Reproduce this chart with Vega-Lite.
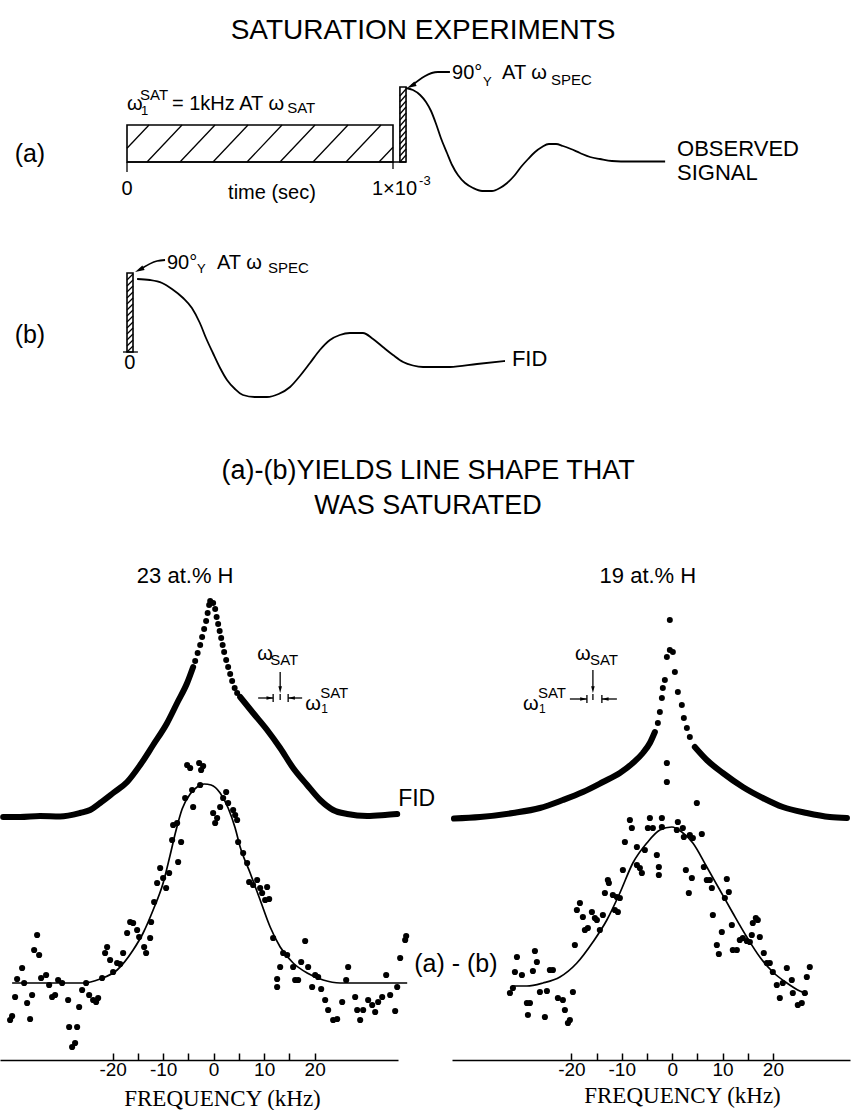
{
  "$schema": "https://vega.github.io/schema/vega-lite/v6.json",
  "padding": 0,
  "background": "white",
  "bounds": "flush",
  "spacing": 30,
  "config": {
    "view": {"stroke": null},
    "font": "Liberation Sans",
    "text": {"font": "Liberation Sans", "color": "black"}
  },
  "datasets": {
    "topRects": [
      {"t": 0, "t2": 1, "v": 7.36, "v2": 8.1},
      {"t": 1.026, "t2": 1.049, "v": 7.36, "v2": 8.86},
      {"t": 0, "t2": 0.0226, "v": 3.56, "v2": 5.14}
    ],
    "topSegs": [
      {"t": 0, "v": 7.634, "t2": 0.0827, "v2": 8.1},
      {"t": 0.0752, "v": 7.36, "t2": 0.2068, "v2": 8.1},
      {"t": 0.1992, "v": 7.36, "t2": 0.3308, "v2": 8.1},
      {"t": 0.3233, "v": 7.36, "t2": 0.4549, "v2": 8.1},
      {"t": 0.4511, "v": 7.36, "t2": 0.5827, "v2": 8.1},
      {"t": 0.5752, "v": 7.36, "t2": 0.7068, "v2": 8.1},
      {"t": 0.6992, "v": 7.36, "t2": 0.8308, "v2": 8.1},
      {"t": 0.8233, "v": 7.36, "t2": 0.9549, "v2": 8.1},
      {"t": 0.9474, "v": 7.36, "t2": 1.0, "v2": 7.656},
      {"t": 0, "v": 7.16, "t2": 0, "v2": 7.36},
      {"t": 1, "v": 7.22, "t2": 1, "v2": 7.36},
      {"t": 0, "v": 7.36, "t2": 1.049, "v2": 7.36},
      {"t": 1.026, "v": 8.68, "t2": 1.049, "v2": 8.82},
      {"t": 1.026, "v": 8.56, "t2": 1.049, "v2": 8.70},
      {"t": 1.026, "v": 8.44, "t2": 1.049, "v2": 8.58},
      {"t": 1.026, "v": 8.32, "t2": 1.049, "v2": 8.46},
      {"t": 1.026, "v": 8.20, "t2": 1.049, "v2": 8.34},
      {"t": 1.026, "v": 8.08, "t2": 1.049, "v2": 8.22},
      {"t": 1.026, "v": 7.96, "t2": 1.049, "v2": 8.10},
      {"t": 1.026, "v": 7.84, "t2": 1.049, "v2": 7.98},
      {"t": 1.026, "v": 7.72, "t2": 1.049, "v2": 7.86},
      {"t": 1.026, "v": 7.60, "t2": 1.049, "v2": 7.74},
      {"t": 1.026, "v": 7.48, "t2": 1.049, "v2": 7.62},
      {"t": 1.026, "v": 7.36, "t2": 1.049, "v2": 7.50},
      {"t": 0, "v": 5.0, "t2": 0.0226, "v2": 5.12},
      {"t": 0, "v": 4.88, "t2": 0.0226, "v2": 5.0},
      {"t": 0, "v": 4.76, "t2": 0.0226, "v2": 4.88},
      {"t": 0, "v": 4.64, "t2": 0.0226, "v2": 4.76},
      {"t": 0, "v": 4.52, "t2": 0.0226, "v2": 4.64},
      {"t": 0, "v": 4.40, "t2": 0.0226, "v2": 4.52},
      {"t": 0, "v": 4.28, "t2": 0.0226, "v2": 4.40},
      {"t": 0, "v": 4.16, "t2": 0.0226, "v2": 4.28},
      {"t": 0, "v": 4.04, "t2": 0.0226, "v2": 4.16},
      {"t": 0, "v": 3.92, "t2": 0.0226, "v2": 4.04},
      {"t": 0, "v": 3.80, "t2": 0.0226, "v2": 3.92},
      {"t": 0, "v": 3.68, "t2": 0.0226, "v2": 3.80},
      {"t": 0, "v": 3.56, "t2": 0.0226, "v2": 3.68},
      {"t": -0.015, "v": 3.56, "t2": 0.041, "v2": 3.56}
    ],
    "topCurves": [
      {"id": "obs", "t": 1.049, "v": 8.84}, {"id": "obs", "t": 1.075, "v": 8.8}, {"id": "obs", "t": 1.102, "v": 8.7},
      {"id": "obs", "t": 1.124, "v": 8.56}, {"id": "obs", "t": 1.143, "v": 8.38}, {"id": "obs", "t": 1.162, "v": 8.12},
      {"id": "obs", "t": 1.180, "v": 7.84}, {"id": "obs", "t": 1.203, "v": 7.54}, {"id": "obs", "t": 1.222, "v": 7.3},
      {"id": "obs", "t": 1.244, "v": 7.1}, {"id": "obs", "t": 1.271, "v": 6.94}, {"id": "obs", "t": 1.301, "v": 6.84},
      {"id": "obs", "t": 1.335, "v": 6.78}, {"id": "obs", "t": 1.372, "v": 6.78}, {"id": "obs", "t": 1.402, "v": 6.84},
      {"id": "obs", "t": 1.429, "v": 6.94}, {"id": "obs", "t": 1.455, "v": 7.08}, {"id": "obs", "t": 1.481, "v": 7.26},
      {"id": "obs", "t": 1.508, "v": 7.42}, {"id": "obs", "t": 1.534, "v": 7.56}, {"id": "obs", "t": 1.560, "v": 7.66},
      {"id": "obs", "t": 1.586, "v": 7.72}, {"id": "obs", "t": 1.613, "v": 7.72}, {"id": "obs", "t": 1.639, "v": 7.68},
      {"id": "obs", "t": 1.669, "v": 7.62}, {"id": "obs", "t": 1.703, "v": 7.54}, {"id": "obs", "t": 1.741, "v": 7.46},
      {"id": "obs", "t": 1.778, "v": 7.42}, {"id": "obs", "t": 1.823, "v": 7.38}, {"id": "obs", "t": 1.891, "v": 7.37},
      {"id": "obs", "t": 2.023, "v": 7.37},
      {"id": "fid", "t": 0.038, "v": 5.02}, {"id": "fid", "t": 0.086, "v": 5.0}, {"id": "fid", "t": 0.132, "v": 4.94},
      {"id": "fid", "t": 0.169, "v": 4.82}, {"id": "fid", "t": 0.211, "v": 4.64}, {"id": "fid", "t": 0.244, "v": 4.44},
      {"id": "fid", "t": 0.274, "v": 4.14}, {"id": "fid", "t": 0.297, "v": 3.84}, {"id": "fid", "t": 0.323, "v": 3.54},
      {"id": "fid", "t": 0.350, "v": 3.24}, {"id": "fid", "t": 0.376, "v": 3.0}, {"id": "fid", "t": 0.406, "v": 2.82},
      {"id": "fid", "t": 0.436, "v": 2.7}, {"id": "fid", "t": 0.48, "v": 2.66}, {"id": "fid", "t": 0.526, "v": 2.66},
      {"id": "fid", "t": 0.57, "v": 2.72}, {"id": "fid", "t": 0.613, "v": 2.86}, {"id": "fid", "t": 0.650, "v": 3.08},
      {"id": "fid", "t": 0.688, "v": 3.34}, {"id": "fid", "t": 0.725, "v": 3.6}, {"id": "fid", "t": 0.763, "v": 3.8},
      {"id": "fid", "t": 0.80, "v": 3.9}, {"id": "fid", "t": 0.838, "v": 3.94}, {"id": "fid", "t": 0.887, "v": 3.94},
      {"id": "fid", "t": 0.925, "v": 3.82}, {"id": "fid", "t": 0.962, "v": 3.66}, {"id": "fid", "t": 1.0, "v": 3.5},
      {"id": "fid", "t": 1.038, "v": 3.36}, {"id": "fid", "t": 1.075, "v": 3.29}, {"id": "fid", "t": 1.113, "v": 3.26},
      {"id": "fid", "t": 1.214, "v": 3.26}, {"id": "fid", "t": 1.316, "v": 3.32}, {"id": "fid", "t": 1.421, "v": 3.38},
      {"id": "leadA", "t": 1.214, "v": 9.16}, {"id": "leadA", "t": 1.169, "v": 9.16}, {"id": "leadA", "t": 1.0695, "v": 8.884},
      {"id": "leadB", "t": 0.143, "v": 5.4}, {"id": "leadB", "t": 0.113, "v": 5.38}, {"id": "leadB", "t": 0.047, "v": 5.204}
    ],
    "topHeads": [
      {"t": 1.0695, "v": 8.884, "ang": 243},
      {"t": 0.047, "v": 5.204, "ang": 243}
    ],
    "topText": [
      {"t": 1.113, "v": 9.82, "txt": "SATURATION EXPERIMENTS", "kind": "title"},
      {"t": 1.132, "v": 1.02, "txt": "(a)-(b)YIELDS LINE SHAPE THAT", "kind": "head"},
      {"t": 1.132, "v": 0.32, "txt": "WAS SATURATED", "kind": "head"},
      {"t": -0.365, "v": 7.36, "txt": "(a)", "kind": "par"},
      {"t": -0.365, "v": 3.74, "txt": "(b)", "kind": "par"},
      {"t": 2.068, "v": 7.48, "txt": "OBSERVED", "kind": "label"},
      {"t": 2.068, "v": 7.0, "txt": "SIGNAL", "kind": "label"},
      {"t": 1.447, "v": 3.28, "txt": "FID", "kind": "label"},
      {"t": 0, "v": 8.4, "txt": "ω", "kind": "main"},
      {"t": 0.169, "v": 8.4, "txt": "= 1kHz AT ω", "kind": "main"},
      {"t": 1.222, "v": 9.02, "txt": "90°", "kind": "main"},
      {"t": 1.410, "v": 9.02, "txt": "AT ω", "kind": "main"},
      {"t": 0.150, "v": 5.22, "txt": "90°", "kind": "main"},
      {"t": 0.338, "v": 5.22, "txt": "AT ω", "kind": "main"},
      {"t": 0.921, "v": 6.7, "txt": "1×10", "kind": "main"},
      {"t": 0, "v": 6.7, "txt": "0", "kind": "mainc"},
      {"t": 0.545, "v": 6.62, "txt": "time (sec)", "kind": "mainc"},
      {"t": 0.011, "v": 3.22, "txt": "0", "kind": "mainc"},
      {"t": 0.049, "v": 8.6, "txt": "SAT", "kind": "sup"},
      {"t": 0.602, "v": 8.34, "txt": "SAT", "kind": "sup"},
      {"t": 1.594, "v": 8.9, "txt": "SPEC", "kind": "sup"},
      {"t": 0.530, "v": 5.14, "txt": "SPEC", "kind": "sup"},
      {"t": 0.053, "v": 8.3, "txt": "1", "kind": "tiny"},
      {"t": 1.338, "v": 8.88, "txt": "Y", "kind": "tiny"},
      {"t": 0.263, "v": 5.14, "txt": "Y", "kind": "tiny"},
      {"t": 1.098, "v": 6.9, "txt": "-3", "kind": "tiny"}
    ],
    "leftFit": [
      {"f": -39.90, "a": 0.77}, {"f": -32.38, "a": 0.77}, {"f": -25.84, "a": 0.77}, {"f": -22.48, "a": 0.81},
      {"f": -19.11, "a": 0.90}, {"f": -15.94, "a": 1.10}, {"f": -13.96, "a": 1.27}, {"f": -11.98, "a": 1.50},
      {"f": -10.00, "a": 1.77}, {"f": -8.61, "a": 2.05}, {"f": -7.43, "a": 2.30}, {"f": -6.24, "a": 2.51},
      {"f": -4.65, "a": 2.66}, {"f": -3.27, "a": 2.73}, {"f": -1.88, "a": 2.76}, {"f": -0.50, "a": 2.75},
      {"f": 1.29, "a": 2.67}, {"f": 2.87, "a": 2.52}, {"f": 4.26, "a": 2.32}, {"f": 5.25, "a": 2.13},
      {"f": 7.23, "a": 1.87}, {"f": 9.21, "a": 1.60}, {"f": 11.19, "a": 1.33}, {"f": 13.17, "a": 1.13},
      {"f": 15.74, "a": 0.97}, {"f": 18.51, "a": 0.87}, {"f": 21.68, "a": 0.80}, {"f": 25.05, "a": 0.77},
      {"f": 38.32, "a": 0.77}
    ],
    "leftFidLine": [
      {"seg": "L", "f": -41.68, "a": 2.43}, {"seg": "L", "f": -38.32, "a": 2.43}, {"seg": "L", "f": -34.36, "a": 2.44},
      {"seg": "L", "f": -30.40, "a": 2.435}, {"seg": "L", "f": -26.44, "a": 2.47}, {"seg": "L", "f": -24.46, "a": 2.50},
      {"seg": "L", "f": -22.48, "a": 2.57}, {"seg": "L", "f": -19.90, "a": 2.67}, {"seg": "L", "f": -17.13, "a": 2.78},
      {"seg": "L", "f": -14.55, "a": 2.95}, {"seg": "L", "f": -11.98, "a": 3.15}, {"seg": "L", "f": -9.21, "a": 3.37},
      {"seg": "L", "f": -7.23, "a": 3.57}, {"seg": "L", "f": -5.25, "a": 3.77}, {"seg": "L", "f": -4.06, "a": 3.93},
      {"seg": "R", "f": 5.25, "a": 3.63}, {"seg": "R", "f": 7.82, "a": 3.47}, {"seg": "R", "f": 10.59, "a": 3.30},
      {"seg": "R", "f": 13.17, "a": 3.12}, {"seg": "R", "f": 15.74, "a": 2.92}, {"seg": "R", "f": 18.51, "a": 2.75},
      {"seg": "R", "f": 21.09, "a": 2.60}, {"seg": "R", "f": 23.66, "a": 2.50}, {"seg": "R", "f": 26.44, "a": 2.46},
      {"seg": "R", "f": 30.40, "a": 2.44}, {"seg": "R", "f": 33.96, "a": 2.45}, {"seg": "R", "f": 36.34, "a": 2.46}
    ],
    "leftFidDots": [
      {"f": -3.66, "a": 3.99}, {"f": -3.17, "a": 4.07}, {"f": -2.67, "a": 4.15}, {"f": -2.28, "a": 4.23},
      {"f": -1.88, "a": 4.31}, {"f": -1.49, "a": 4.39}, {"f": -1.19, "a": 4.47}, {"f": -0.89, "a": 4.55},
      {"f": -0.69, "a": 4.59}, {"f": -0.10, "a": 4.57}, {"f": 0.30, "a": 4.51}, {"f": 0.59, "a": 4.43},
      {"f": 0.89, "a": 4.36}, {"f": 1.19, "a": 4.29}, {"f": 1.49, "a": 4.22}, {"f": 1.78, "a": 4.15},
      {"f": 2.08, "a": 4.08}, {"f": 2.48, "a": 4.00}, {"f": 2.87, "a": 3.93}, {"f": 3.27, "a": 3.86},
      {"f": 3.66, "a": 3.79}, {"f": 4.16, "a": 3.72}, {"f": 4.65, "a": 3.67}
    ],
    "leftDiff": [
      {"f": -40.30, "a": 0.40}, {"f": -39.90, "a": 0.44}, {"f": -39.31, "a": 0.63}, {"f": -38.91, "a": 0.81},
      {"f": -37.92, "a": 0.92}, {"f": -37.52, "a": 0.77}, {"f": -36.93, "a": 0.57}, {"f": -36.34, "a": 0.41},
      {"f": -35.94, "a": 0.65}, {"f": -35.54, "a": 1.10}, {"f": -34.95, "a": 1.25}, {"f": -34.55, "a": 1.05},
      {"f": -34.16, "a": 0.82}, {"f": -33.17, "a": 0.85}, {"f": -32.57, "a": 0.75}, {"f": -31.98, "a": 0.63},
      {"f": -31.39, "a": 0.65}, {"f": -30.79, "a": 0.80}, {"f": -30.00, "a": 0.77}, {"f": -28.81, "a": 0.60},
      {"f": -28.61, "a": 0.33}, {"f": -27.03, "a": 0.33}, {"f": -28.02, "a": 0.13}, {"f": -27.43, "a": 0.17},
      {"f": -26.63, "a": 0.53}, {"f": -26.04, "a": 0.70}, {"f": -25.25, "a": 0.77}, {"f": -24.65, "a": 0.65},
      {"f": -23.86, "a": 0.60}, {"f": -22.87, "a": 0.62}, {"f": -23.27, "a": 0.58}, {"f": -22.08, "a": 0.82},
      {"f": -21.49, "a": 1.07}, {"f": -21.09, "a": 1.13}, {"f": -20.50, "a": 1.00}, {"f": -19.90, "a": 0.88},
      {"f": -19.11, "a": 0.97}, {"f": -18.51, "a": 0.96}, {"f": -17.92, "a": 1.07}, {"f": -17.13, "a": 1.27},
      {"f": -16.53, "a": 1.38}, {"f": -15.94, "a": 1.37}, {"f": -15.15, "a": 1.30}, {"f": -14.75, "a": 1.23},
      {"f": -13.76, "a": 1.13}, {"f": -13.37, "a": 1.07}, {"f": -12.57, "a": 1.22}, {"f": -12.38, "a": 1.38},
      {"f": -11.78, "a": 1.58}, {"f": -11.19, "a": 1.77}, {"f": -10.59, "a": 1.92}, {"f": -10.00, "a": 1.82},
      {"f": -9.41, "a": 1.72}, {"f": -8.81, "a": 1.87}, {"f": -8.22, "a": 2.20}, {"f": -7.23, "a": 2.37},
      {"f": -7.03, "a": 1.98}, {"f": -6.44, "a": 2.18}, {"f": -8.02, "a": 2.35}, {"f": -5.25, "a": 2.95},
      {"f": -4.65, "a": 2.92}, {"f": -2.87, "a": 2.97}, {"f": -2.48, "a": 2.90}, {"f": -2.08, "a": 2.94},
      {"f": -4.26, "a": 2.70}, {"f": -5.64, "a": 2.62}, {"f": -4.06, "a": 2.53}, {"f": -2.67, "a": 2.75},
      {"f": -0.10, "a": 2.47}, {"f": 0.69, "a": 2.42}, {"f": 1.29, "a": 2.53}, {"f": 1.88, "a": 2.62},
      {"f": 2.48, "a": 2.68}, {"f": 2.87, "a": 2.57}, {"f": 3.86, "a": 2.50}, {"f": 4.26, "a": 2.45},
      {"f": 0.30, "a": 2.37}, {"f": 4.65, "a": 2.40}, {"f": 4.85, "a": 2.18}, {"f": 5.84, "a": 2.07},
      {"f": 6.63, "a": 1.97}, {"f": 7.03, "a": 1.78}, {"f": 7.82, "a": 1.75}, {"f": 8.61, "a": 1.80},
      {"f": 9.21, "a": 1.72}, {"f": 9.60, "a": 1.67}, {"f": 10.20, "a": 1.60}, {"f": 10.59, "a": 1.73},
      {"f": 10.99, "a": 1.61}, {"f": 11.78, "a": 1.22}, {"f": 12.57, "a": 0.81}, {"f": 12.57, "a": 0.73},
      {"f": 13.17, "a": 0.93}, {"f": 13.76, "a": 1.07}, {"f": 14.55, "a": 1.05}, {"f": 15.74, "a": 0.93},
      {"f": 16.14, "a": 0.80}, {"f": 16.73, "a": 0.80}, {"f": 17.33, "a": 0.98}, {"f": 18.12, "a": 1.19},
      {"f": 18.71, "a": 0.93}, {"f": 19.50, "a": 0.73}, {"f": 20.10, "a": 0.85}, {"f": 20.69, "a": 0.83},
      {"f": 21.29, "a": 0.71}, {"f": 22.08, "a": 0.60}, {"f": 22.67, "a": 0.50}, {"f": 23.66, "a": 0.40},
      {"f": 24.46, "a": 0.41}, {"f": 25.45, "a": 0.58}, {"f": 26.24, "a": 0.80}, {"f": 26.63, "a": 0.93},
      {"f": 28.02, "a": 0.63}, {"f": 28.42, "a": 0.50}, {"f": 29.01, "a": 0.40}, {"f": 29.60, "a": 0.50},
      {"f": 30.59, "a": 0.60}, {"f": 31.39, "a": 0.55}, {"f": 31.98, "a": 0.48}, {"f": 32.57, "a": 0.58},
      {"f": 33.37, "a": 0.63}, {"f": 34.16, "a": 0.85}, {"f": 34.95, "a": 0.65}, {"f": 35.94, "a": 0.49},
      {"f": 36.34, "a": 0.73}, {"f": 36.93, "a": 1.02}, {"f": 38.12, "a": 1.24}, {"f": 37.92, "a": 1.20}
    ],
    "leftRules": [
      {"f": 13.17, "a": 3.88, "f2": 13.17, "a2": 3.73},
      {"f": 13.17, "a": 3.66, "f2": 13.17, "a2": 3.60},
      {"f": 8.81, "a": 3.62, "f2": 11.78, "a2": 3.62},
      {"f": 11.78, "a": 3.66, "f2": 11.78, "a2": 3.58},
      {"f": 14.75, "a": 3.66, "f2": 14.75, "a2": 3.58},
      {"f": 14.75, "a": 3.62, "f2": 17.52, "a2": 3.62}
    ],
    "leftHeads": [
      {"f": 13.17, "a": 3.705, "ang": 180},
      {"f": 11.09, "a": 3.62, "ang": 90},
      {"f": 15.45, "a": 3.62, "ang": 270}
    ],
    "leftText": [
      {"f": -5.64, "a": 4.77, "txt": "23 at.% H", "kind": "head"},
      {"f": 8.61, "a": 4.0, "txt": "ω", "kind": "main"},
      {"f": 11.19, "a": 3.95, "txt": "SAT", "kind": "sup"},
      {"f": 18.12, "a": 3.5, "txt": "ω", "kind": "main"},
      {"f": 21.09, "a": 3.62, "txt": "SAT", "kind": "sup"},
      {"f": 21.29, "a": 3.47, "txt": "1", "kind": "tiny"},
      {"f": 36.53, "a": 2.54, "txt": "FID", "kind": "label"}
    ],
    "rightFit": [
      {"f": -31.81, "a": 0.74}, {"f": -28.83, "a": 0.74}, {"f": -25.65, "a": 0.77}, {"f": -22.28, "a": 0.83},
      {"f": -18.91, "a": 0.97}, {"f": -15.73, "a": 1.18}, {"f": -12.96, "a": 1.40}, {"f": -10.38, "a": 1.67},
      {"f": -7.80, "a": 1.97}, {"f": -5.02, "a": 2.17}, {"f": -2.44, "a": 2.30}, {"f": -0.06, "a": 2.33},
      {"f": 1.92, "a": 2.28}, {"f": 4.11, "a": 2.17}, {"f": 6.88, "a": 1.93}, {"f": 9.46, "a": 1.70},
      {"f": 12.04, "a": 1.47}, {"f": 14.82, "a": 1.23}, {"f": 17.40, "a": 1.03}, {"f": 19.98, "a": 0.88},
      {"f": 22.76, "a": 0.77}, {"f": 25.34, "a": 0.69}, {"f": 26.92, "a": 0.66}
    ],
    "rightFidLine": [
      {"seg": "L", "f": -43.31, "a": 2.415}, {"seg": "L", "f": -38.15, "a": 2.43}, {"seg": "L", "f": -31.61, "a": 2.47},
      {"seg": "L", "f": -26.25, "a": 2.52}, {"seg": "L", "f": -21.69, "a": 2.60}, {"seg": "L", "f": -17.72, "a": 2.68},
      {"seg": "L", "f": -13.75, "a": 2.78}, {"seg": "L", "f": -10.38, "a": 2.87}, {"seg": "L", "f": -7.80, "a": 2.97},
      {"seg": "L", "f": -5.81, "a": 3.07}, {"seg": "L", "f": -4.42, "a": 3.17}, {"seg": "L", "f": -3.43, "a": 3.28},
      {"seg": "R", "f": 4.50, "a": 3.13}, {"seg": "R", "f": 6.88, "a": 3.00}, {"seg": "R", "f": 10.06, "a": 2.87},
      {"seg": "R", "f": 14.03, "a": 2.73}, {"seg": "R", "f": 18.00, "a": 2.62}, {"seg": "R", "f": 21.96, "a": 2.53},
      {"seg": "R", "f": 26.73, "a": 2.47}, {"seg": "R", "f": 31.29, "a": 2.43}, {"seg": "R", "f": 34.7, "a": 2.42}
    ],
    "rightFidDots": [
      {"f": -2.84, "a": 3.37}, {"f": -2.44, "a": 3.48}, {"f": -2.04, "a": 3.62}, {"f": -1.85, "a": 3.72},
      {"f": -1.45, "a": 3.80}, {"f": -1.05, "a": 4.03}, {"f": -0.46, "a": 4.10}, {"f": -0.46, "a": 4.40},
      {"f": 0.14, "a": 4.08}, {"f": 0.54, "a": 3.88}, {"f": 1.13, "a": 3.68}, {"f": 1.92, "a": 3.55},
      {"f": 2.32, "a": 3.42}, {"f": 2.92, "a": 3.32}, {"f": 3.51, "a": 3.23}
    ],
    "rightDiff": [
      {"f": -32.20, "a": 0.67}, {"f": -31.61, "a": 0.72}, {"f": -30.81, "a": 1.03}, {"f": -31.21, "a": 0.88},
      {"f": -29.82, "a": 0.85}, {"f": -28.83, "a": 0.57}, {"f": -28.23, "a": 0.57}, {"f": -28.63, "a": 0.45},
      {"f": -27.64, "a": 0.89}, {"f": -27.24, "a": 1.09}, {"f": -26.85, "a": 0.98}, {"f": -26.25, "a": 0.68},
      {"f": -25.26, "a": 0.43}, {"f": -24.86, "a": 0.69}, {"f": -24.27, "a": 0.90}, {"f": -23.67, "a": 0.90},
      {"f": -22.68, "a": 0.62}, {"f": -21.69, "a": 0.60}, {"f": -21.29, "a": 0.50}, {"f": -20.30, "a": 0.40},
      {"f": -20.69, "a": 0.37}, {"f": -19.70, "a": 0.68}, {"f": -19.31, "a": 1.15}, {"f": -18.91, "a": 1.50},
      {"f": -18.31, "a": 1.57}, {"f": -17.72, "a": 1.43}, {"f": -17.32, "a": 1.30}, {"f": -16.73, "a": 1.32},
      {"f": -15.93, "a": 1.48}, {"f": -15.34, "a": 1.42}, {"f": -14.94, "a": 1.40}, {"f": -14.35, "a": 1.30},
      {"f": -13.75, "a": 1.45}, {"f": -13.35, "a": 1.67}, {"f": -12.76, "a": 1.80}, {"f": -12.56, "a": 1.77},
      {"f": -11.77, "a": 1.65}, {"f": -11.37, "a": 1.50}, {"f": -10.77, "a": 1.48}, {"f": -10.97, "a": 1.63},
      {"f": -10.38, "a": 1.62}, {"f": -9.78, "a": 1.90}, {"f": -9.38, "a": 2.18}, {"f": -8.39, "a": 2.40},
      {"f": -7.00, "a": 2.13}, {"f": -7.00, "a": 1.95}, {"f": -6.41, "a": 1.92}, {"f": -6.01, "a": 1.87},
      {"f": -5.42, "a": 2.10}, {"f": -4.82, "a": 2.32}, {"f": -3.83, "a": 2.32}, {"f": -3.04, "a": 2.05},
      {"f": -2.64, "a": 1.93}, {"f": -2.64, "a": 1.85}, {"f": -2.04, "a": 2.33}, {"f": 0.93, "a": 2.30},
      {"f": 1.13, "a": 2.38}, {"f": 2.32, "a": 2.23}, {"f": 2.72, "a": 1.90}, {"f": 3.31, "a": 1.67},
      {"f": 3.91, "a": 1.82}, {"f": 4.11, "a": 2.22}, {"f": 5.89, "a": 2.26}, {"f": 6.29, "a": 1.93},
      {"f": 6.88, "a": 1.80}, {"f": 7.48, "a": 1.80}, {"f": 7.88, "a": 1.72}, {"f": 8.08, "a": 1.45},
      {"f": 8.87, "a": 1.15}, {"f": 9.27, "a": 1.06}, {"f": 9.86, "a": 1.28}, {"f": 10.46, "a": 1.62},
      {"f": 10.85, "a": 1.81}, {"f": 11.25, "a": 1.68}, {"f": 11.85, "a": 1.35}, {"f": 12.04, "a": 1.10},
      {"f": 12.84, "a": 1.10}, {"f": 13.43, "a": 1.20}, {"f": 14.03, "a": 1.22}, {"f": 14.82, "a": 1.19},
      {"f": 15.42, "a": 1.18}, {"f": 15.81, "a": 1.25}, {"f": 16.01, "a": 1.37}, {"f": 16.61, "a": 1.42},
      {"f": 17.00, "a": 1.40}, {"f": 17.40, "a": 1.23}, {"f": 18.19, "a": 1.07}, {"f": 18.79, "a": 0.97},
      {"f": 19.38, "a": 0.97}, {"f": 19.98, "a": 0.88}, {"f": 20.77, "a": 0.75}, {"f": 21.37, "a": 0.62},
      {"f": 21.96, "a": 0.77}, {"f": 22.76, "a": 0.92}, {"f": 23.75, "a": 0.80}, {"f": 23.95, "a": 0.67},
      {"f": 24.94, "a": 0.55}, {"f": 25.73, "a": 0.57}, {"f": 26.33, "a": 0.67}, {"f": 26.73, "a": 0.83},
      {"f": 27.32, "a": 0.93}, {"f": -8.00, "a": 2.32}, {"f": -4.42, "a": 2.42}, {"f": -2.04, "a": 2.42},
      {"f": -1.05, "a": 2.97}, {"f": -1.05, "a": 2.78}, {"f": 4.90, "a": 2.57}, {"f": 2.12, "a": 2.32},
      {"f": 3.51, "a": 2.25}
    ],
    "rightRules": [
      {"f": -15.73, "a": 3.90, "f2": -15.73, "a2": 3.73},
      {"f": -15.73, "a": 3.66, "f2": -15.73, "a2": 3.60},
      {"f": -20.30, "a": 3.61, "f2": -16.92, "a2": 3.61},
      {"f": -16.92, "a": 3.65, "f2": -16.92, "a2": 3.57},
      {"f": -13.95, "a": 3.65, "f2": -13.95, "a2": 3.57},
      {"f": -13.95, "a": 3.61, "f2": -10.97, "a2": 3.61}
    ],
    "rightHeads": [
      {"f": -15.73, "a": 3.705, "ang": 180},
      {"f": -17.62, "a": 3.61, "ang": 90},
      {"f": -13.25, "a": 3.61, "ang": 270}
    ],
    "rightText": [
      {"f": -4.82, "a": 4.77, "txt": "19 at.% H", "kind": "head"},
      {"f": -19.31, "a": 4.0, "txt": "ω", "kind": "main"},
      {"f": -16.33, "a": 3.95, "txt": "SAT", "kind": "sup"},
      {"f": -29.62, "a": 3.5, "txt": "ω", "kind": "main"},
      {"f": -26.65, "a": 3.62, "txt": "SAT", "kind": "sup"},
      {"f": -26.45, "a": 3.47, "txt": "1", "kind": "tiny"},
      {"f": -42.92, "a": 0.88, "txt": "(a) - (b)", "kind": "par"}
    ]
  },
  "vconcat": [
    {
      "width": 856,
      "height": 530,
      "encoding": {
        "x": {"field": "t", "type": "quantitative", "scale": {"domain": [-0.47744, 2.7406], "nice": false, "zero": false}, "axis": null},
        "y": {"field": "v", "type": "quantitative", "scale": {"domain": [0, 10.6], "nice": false, "zero": false}, "axis": null}
      },
      "layer": [
        {"data": {"name": "topRects"}, "mark": {"type": "rect", "fillOpacity": 0, "stroke": "black", "strokeWidth": 1.6},
         "encoding": {"x2": {"field": "t2"}, "y2": {"field": "v2"}}},
        {"data": {"name": "topSegs"}, "mark": {"type": "rule", "color": "black", "strokeWidth": 1.3},
         "encoding": {"x2": {"field": "t2"}, "y2": {"field": "v2"}}},
        {"data": {"name": "topCurves"}, "mark": {"type": "line", "color": "black", "strokeWidth": 1.8, "interpolate": "monotone"},
         "encoding": {"detail": {"field": "id"}}},
        {"data": {"name": "topHeads"}, "mark": {"type": "point", "shape": "M0,-1L0.5,0.9L-0.5,0.9Z", "filled": true, "color": "black", "size": 100, "opacity": 1, "strokeWidth": 0},
         "encoding": {"angle": {"field": "ang", "type": "quantitative", "scale": null}}},
        {"data": {"name": "topText"}, "transform": [{"filter": "datum.kind === 'title'"}],
         "mark": {"type": "text", "fontSize": 28, "align": "center", "baseline": "alphabetic", "color": "black"},
         "encoding": {"text": {"field": "txt"}}},
        {"data": {"name": "topText"}, "transform": [{"filter": "datum.kind === 'head'"}],
         "mark": {"type": "text", "fontSize": 27, "align": "center", "baseline": "alphabetic", "color": "black"},
         "encoding": {"text": {"field": "txt"}}},
        {"data": {"name": "topText"}, "transform": [{"filter": "datum.kind === 'par'"}],
         "mark": {"type": "text", "fontSize": 25, "align": "center", "baseline": "alphabetic", "color": "black"},
         "encoding": {"text": {"field": "txt"}}},
        {"data": {"name": "topText"}, "transform": [{"filter": "datum.kind === 'label'"}],
         "mark": {"type": "text", "fontSize": 22, "align": "left", "baseline": "alphabetic", "color": "black"},
         "encoding": {"text": {"field": "txt"}}},
        {"data": {"name": "topText"}, "transform": [{"filter": "datum.kind === 'main'"}],
         "mark": {"type": "text", "fontSize": 20, "align": "left", "baseline": "alphabetic", "color": "black"},
         "encoding": {"text": {"field": "txt"}}},
        {"data": {"name": "topText"}, "transform": [{"filter": "datum.kind === 'mainc'"}],
         "mark": {"type": "text", "fontSize": 20, "align": "center", "baseline": "alphabetic", "color": "black"},
         "encoding": {"text": {"field": "txt"}}},
        {"data": {"name": "topText"}, "transform": [{"filter": "datum.kind === 'sup'"}],
         "mark": {"type": "text", "fontSize": 15, "align": "left", "baseline": "alphabetic", "color": "black"},
         "encoding": {"text": {"field": "txt"}}},
        {"data": {"name": "topText"}, "transform": [{"filter": "datum.kind === 'tiny'"}],
         "mark": {"type": "text", "fontSize": 13, "align": "left", "baseline": "alphabetic", "color": "black"},
         "encoding": {"text": {"field": "txt"}}}
      ]
    },
    {
      "bounds": "flush",
      "spacing": 54,
      "hconcat": [
        {
          "width": 398,
          "height": 500,
          "encoding": {
            "x": {"field": "f", "type": "quantitative",
                  "scale": {"domain": [-42.3, 36.5], "nice": false, "zero": false},
                  "axis": {"values": [-20, -15, -10, -5, 0, 5, 10, 15, 20],
                           "labelExpr": "datum.value % 10 === 0 ? '' + datum.value : ''",
                           "tickSize": -7, "tickColor": "black", "tickWidth": 1.5,
                           "domainColor": "black", "domainWidth": 1.5, "grid": false,
                           "labelFont": "Liberation Sans", "labelFontSize": 19, "labelColor": "black",
                           "labelPadding": 7, "labelFlush": false, "labelOverlap": false,
                           "title": "FREQUENCY (kHz)", "titleFont": "Liberation Serif", "titleFontSize": 23,
                           "titleFontWeight": "normal", "titleColor": "black",
                           "titleX": 222, "titleY": 45, "titleBaseline": "alphabetic", "titleAlign": "center"}},
            "y": {"field": "a", "type": "quantitative", "scale": {"domain": [0, 5], "nice": false, "zero": false}, "axis": null}
          },
          "layer": [
            {"data": {"name": "leftFit"}, "mark": {"type": "line", "color": "black", "strokeWidth": 1.7, "interpolate": "monotone"}},
            {"data": {"name": "leftFidLine"}, "mark": {"type": "line", "color": "black", "strokeWidth": 6, "strokeCap": "round", "strokeJoin": "round", "interpolate": "monotone"},
             "encoding": {"detail": {"field": "seg"}}},
            {"data": {"name": "leftFidDots"}, "mark": {"type": "circle", "color": "black", "opacity": 1, "size": 36}},
            {"data": {"name": "leftDiff"}, "mark": {"type": "circle", "color": "black", "opacity": 1, "size": 38}},
            {"data": {"name": "leftRules"}, "mark": {"type": "rule", "color": "black", "strokeWidth": 1.3},
             "encoding": {"x2": {"field": "f2"}, "y2": {"field": "a2"}}},
            {"data": {"name": "leftHeads"}, "mark": {"type": "point", "shape": "M0,-1L0.5,0.9L-0.5,0.9Z", "filled": true, "color": "black", "size": 50, "opacity": 1, "strokeWidth": 0},
             "encoding": {"angle": {"field": "ang", "type": "quantitative", "scale": null}}},
            {"data": {"name": "leftText"}, "transform": [{"filter": "datum.kind === 'head'"}],
             "mark": {"type": "text", "fontSize": 22, "align": "center", "baseline": "alphabetic", "color": "black"},
             "encoding": {"text": {"field": "txt"}}},
            {"data": {"name": "leftText"}, "transform": [{"filter": "datum.kind === 'main'"}],
             "mark": {"type": "text", "fontSize": 20, "align": "left", "baseline": "alphabetic", "color": "black"},
             "encoding": {"text": {"field": "txt"}}},
            {"data": {"name": "leftText"}, "transform": [{"filter": "datum.kind === 'sup'"}],
             "mark": {"type": "text", "fontSize": 15, "align": "left", "baseline": "alphabetic", "color": "black"},
             "encoding": {"text": {"field": "txt"}}},
            {"data": {"name": "leftText"}, "transform": [{"filter": "datum.kind === 'tiny'"}],
             "mark": {"type": "text", "fontSize": 12, "align": "left", "baseline": "alphabetic", "color": "black"},
             "encoding": {"text": {"field": "txt"}}},
            {"data": {"name": "leftText"}, "transform": [{"filter": "datum.kind === 'label'"}],
             "mark": {"type": "text", "fontSize": 23, "align": "left", "baseline": "alphabetic", "color": "black"},
             "encoding": {"text": {"field": "txt"}}}
          ]
        },
        {
          "width": 398,
          "height": 500,
          "encoding": {
            "x": {"field": "f", "type": "quantitative",
                  "scale": {"domain": [-43.7, 35.3], "nice": false, "zero": false},
                  "axis": {"values": [-20, -15, -10, -5, 0, 5, 10, 15, 20],
                           "labelExpr": "datum.value % 10 === 0 ? '' + datum.value : ''",
                           "tickSize": -7, "tickColor": "black", "tickWidth": 1.5,
                           "domainColor": "black", "domainWidth": 1.5, "grid": false,
                           "labelFont": "Liberation Sans", "labelFontSize": 19, "labelColor": "black",
                           "labelPadding": 7, "labelFlush": false, "labelOverlap": false,
                           "title": "FREQUENCY (kHz)", "titleFont": "Liberation Serif", "titleFontSize": 23,
                           "titleFontWeight": "normal", "titleColor": "black",
                           "titleX": 230, "titleY": 42, "titleBaseline": "alphabetic", "titleAlign": "center"}},
            "y": {"field": "a", "type": "quantitative", "scale": {"domain": [0, 5], "nice": false, "zero": false}, "axis": null}
          },
          "layer": [
            {"data": {"name": "rightFit"}, "mark": {"type": "line", "color": "black", "strokeWidth": 1.7, "interpolate": "monotone"}},
            {"data": {"name": "rightFidLine"}, "mark": {"type": "line", "color": "black", "strokeWidth": 6, "strokeCap": "round", "strokeJoin": "round", "interpolate": "monotone"},
             "encoding": {"detail": {"field": "seg"}}},
            {"data": {"name": "rightFidDots"}, "mark": {"type": "circle", "color": "black", "opacity": 1, "size": 36}},
            {"data": {"name": "rightDiff"}, "mark": {"type": "circle", "color": "black", "opacity": 1, "size": 38}},
            {"data": {"name": "rightRules"}, "mark": {"type": "rule", "color": "black", "strokeWidth": 1.3},
             "encoding": {"x2": {"field": "f2"}, "y2": {"field": "a2"}}},
            {"data": {"name": "rightHeads"}, "mark": {"type": "point", "shape": "M0,-1L0.5,0.9L-0.5,0.9Z", "filled": true, "color": "black", "size": 50, "opacity": 1, "strokeWidth": 0},
             "encoding": {"angle": {"field": "ang", "type": "quantitative", "scale": null}}},
            {"data": {"name": "rightText"}, "transform": [{"filter": "datum.kind === 'head'"}],
             "mark": {"type": "text", "fontSize": 22, "align": "center", "baseline": "alphabetic", "color": "black"},
             "encoding": {"text": {"field": "txt"}}},
            {"data": {"name": "rightText"}, "transform": [{"filter": "datum.kind === 'main'"}],
             "mark": {"type": "text", "fontSize": 20, "align": "left", "baseline": "alphabetic", "color": "black"},
             "encoding": {"text": {"field": "txt"}}},
            {"data": {"name": "rightText"}, "transform": [{"filter": "datum.kind === 'sup'"}],
             "mark": {"type": "text", "fontSize": 15, "align": "left", "baseline": "alphabetic", "color": "black"},
             "encoding": {"text": {"field": "txt"}}},
            {"data": {"name": "rightText"}, "transform": [{"filter": "datum.kind === 'tiny'"}],
             "mark": {"type": "text", "fontSize": 12, "align": "left", "baseline": "alphabetic", "color": "black"},
             "encoding": {"text": {"field": "txt"}}},
            {"data": {"name": "rightText"}, "transform": [{"filter": "datum.kind === 'par'"}],
             "mark": {"type": "text", "fontSize": 25, "align": "center", "baseline": "alphabetic", "color": "black"},
             "encoding": {"text": {"field": "txt"}}}
          ]
        }
      ]
    }
  ]
}
